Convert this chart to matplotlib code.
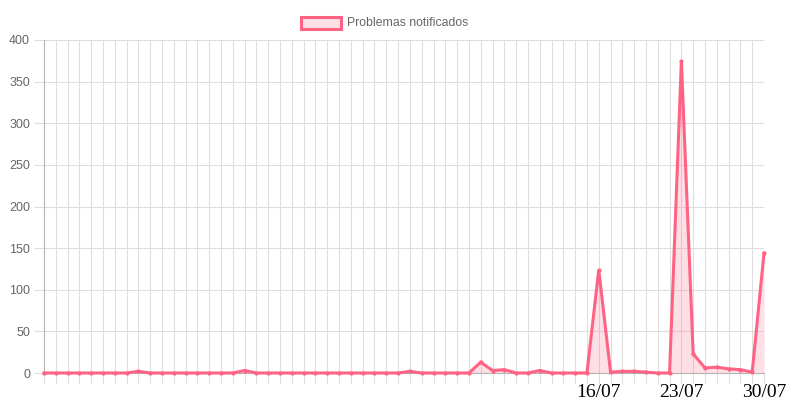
import matplotlib
matplotlib.use("Agg")
import matplotlib.pyplot as plt
from matplotlib.patches import Rectangle

# ---- data ----
dates = ["30/05", "31/05",
         "01/06", "02/06", "03/06", "04/06", "05/06", "06/06", "07/06", "08/06", "09/06", "10/06",
         "11/06", "12/06", "13/06", "14/06", "15/06", "16/06", "17/06", "18/06", "19/06", "20/06",
         "21/06", "22/06", "23/06", "24/06", "25/06", "26/06", "27/06", "28/06", "29/06", "30/06",
         "01/07", "02/07", "03/07", "04/07", "05/07", "06/07", "07/07", "08/07", "09/07", "10/07",
         "11/07", "12/07", "13/07", "14/07", "15/07", "16/07", "17/07", "18/07", "19/07", "20/07",
         "21/07", "22/07", "23/07", "24/07", "25/07", "26/07", "27/07", "28/07", "29/07", "30/07"]
shown_labels = ["16/07", "23/07", "30/07"]
problemas = [0, 0, 0, 0, 0, 0, 0, 0, 2, 0,
             0, 0, 0, 0, 0, 0, 0, 3, 0, 0,
             0, 0, 0, 0, 0, 0, 0, 0, 0, 0,
             0, 2, 0, 0, 0, 0, 0, 13, 3, 4,
             0, 0, 3, 0, 0, 0, 0, 124, 1, 2,
             2, 1, 0, 0, 375, 23, 6, 7, 5, 4,
             1, 144]
series_label = "Problemas notificados"
yticks = [0, 50, 100, 150, 200, 250, 300, 350, 400]

# ---- style ----
W, H = 789, 401
pink = "#FF6384"
pink_fill = (1.0, 99/255, 132/255, 0.2)
grid_c = "#dedede"
axis_c = "#b5b5b5"

fig = plt.figure(figsize=(W/100, H/100), dpi=100)
L, R, T, B = 44, 764, 40, 373
ax = fig.add_axes([L/W, 1 - B/H, (R-L)/W, (B-T)/H])

x = list(range(len(dates)))
ax.fill_between(x, problemas, 0, color=pink_fill, linewidth=0, zorder=2)
ax.plot(x, problemas, color=pink, lw=2.2, zorder=3, solid_joinstyle="miter",
        marker="o", ms=2.0, mec=pink, mfc=pink, clip_on=False)

ax.set_xlim(0, len(dates) - 1)
ax.set_ylim(0, 400)

ax.set_xticks(x)
ax.set_xticklabels([d if d in shown_labels else "" for d in dates],
                   fontfamily="Liberation Serif", fontsize=14, color="#000000")
ax.set_yticks(yticks)
ax.set_yticklabels([str(v) for v in yticks], fontfamily="Liberation Sans",
                   fontsize=9, color="#666666")
ax.tick_params(axis="x", length=7.5, width=0.8, color=grid_c, pad=0.5)
ax.tick_params(axis="y", length=7, width=0.8, color=grid_c, pad=3)

ax.grid(True, color=grid_c, lw=0.8, alpha=1.0, zorder=0)
ax.get_xgridlines()[-1].set_visible(False)
ax.set_axisbelow(True)
for s in ["top", "right"]:
    ax.spines[s].set_visible(False)
ax.spines["left"].set_color(axis_c)
ax.spines["bottom"].set_color(axis_c)
ax.spines["left"].set_linewidth(0.8)
ax.spines["bottom"].set_linewidth(0.8)

# ---- legend (top centre) ----
bx, by, bw, bh = 301, 17, 40, 12
fig.patches.append(Rectangle((bx/W, 1 - (by+bh)/H), bw/W, bh/H,
                             transform=fig.transFigure, facecolor=pink_fill,
                             edgecolor=pink, lw=2.2))
fig.text(347/W, 1 - 23.5/H, series_label, fontfamily="Liberation Sans",
         fontsize=8.8, color="#666666", va="center", ha="left")

fig.savefig("out.png", dpi=100)
